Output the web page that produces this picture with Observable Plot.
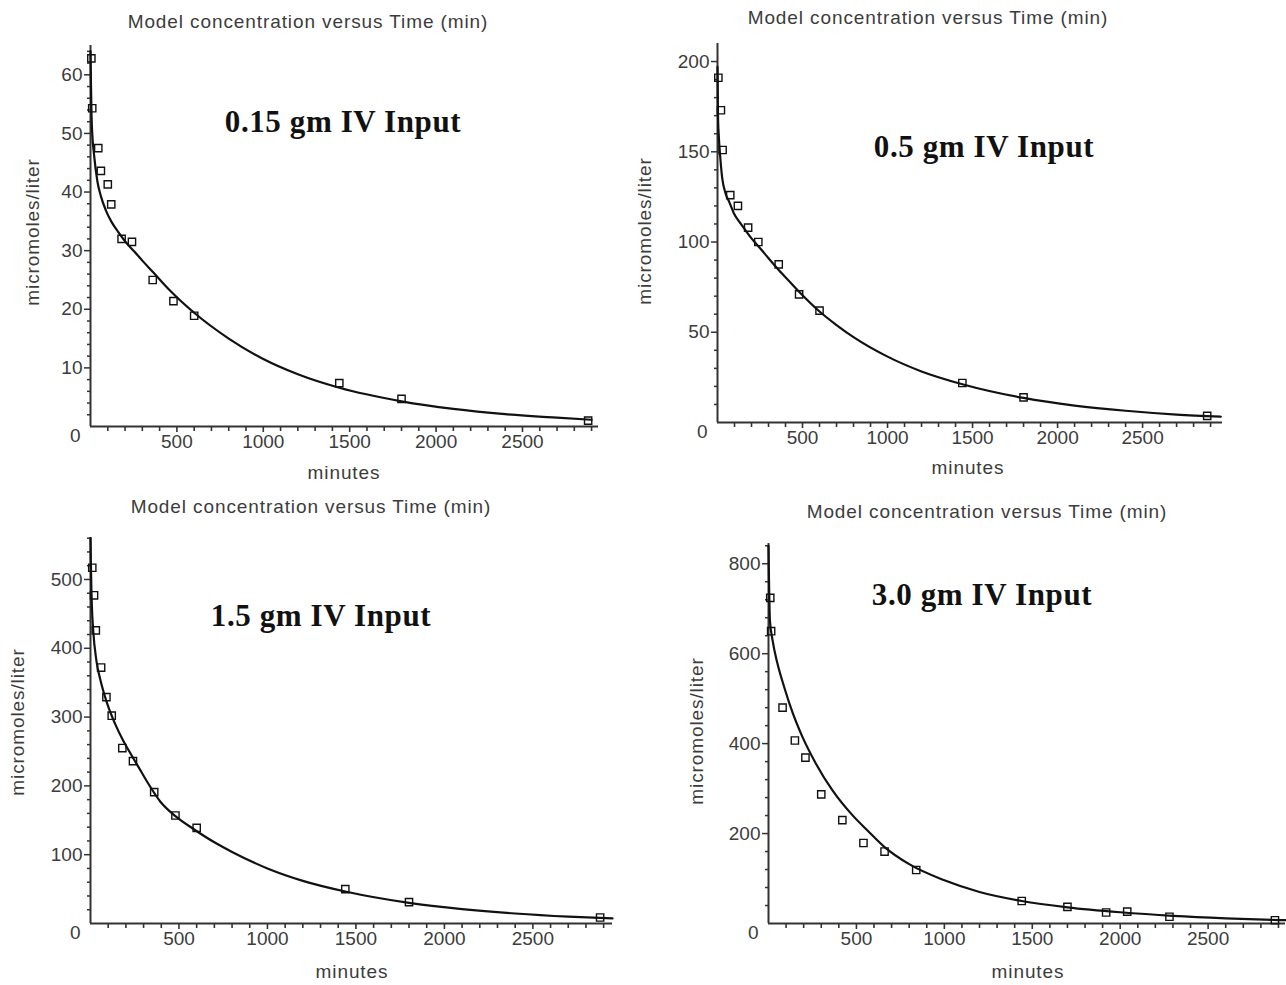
<!DOCTYPE html>
<html>
<head>
<meta charset="utf-8">
<script src="https://cdn.jsdelivr.net/npm/d3@7"></script>
<script src="https://cdn.jsdelivr.net/npm/@observablehq/plot@0.6"></script>
<style>
  body { margin: 0; background: #fff; }
  #root { position: relative; width: 1286px; height: 985px; overflow: hidden; background: #fff;
          font-family: "Liberation Sans", Arial, sans-serif; }
  .panel { position: absolute; }
  .lbl { position: absolute; white-space: nowrap; font-size: 19px; color: #3c3c3c;
         font-family: "Liberation Sans", Arial, sans-serif; }
  .title { transform: translate(-50%, -50%); letter-spacing: 0.9px; }
  .xlab { transform: translate(-50%, -50%); letter-spacing: 0.9px; }
  .ylab { transform: translate(-50%, -50%) rotate(-90deg); letter-spacing: 0.9px; }
  .note { position: absolute; white-space: nowrap; transform: translate(-50%, -50%);
          font-family: "Liberation Serif", "Times New Roman", serif; font-weight: bold;
          font-size: 31px; letter-spacing: 0.6px; color: #111; }
</style>
</head>
<body>
<div id="root"></div>
<script>
// ---------- shared texts / ticks ----------
const panelTitle = "Model concentration versus Time (min)";
const yLabel = "micromoles/liter";
const xLabel = "minutes";
const xMajorTicks = [500, 1000, 1500, 2000, 2500];

// ---------- Panel A : 0.15 gm ----------
const doseA = "0.15 gm IV Input";
const obsTimeA = [5, 10, 45, 60, 100, 120, 180, 240, 360, 480, 600, 1440, 1800, 2880];
const obsConcA = [62.8, 54.3, 47.5, 43.6, 41.3, 37.9, 32.0, 31.5, 25.0, 21.4, 18.9, 7.4, 4.7, 1.0];
const fitTimeA = [0, 3, 6, 10, 20, 40, 60, 90, 120, 160, 200, 255, 300, 360, 460, 600, 800, 1000, 1200, 1440, 1800, 2100, 2400, 2700, 2900];
const fitConcA = [64, 58, 53, 50, 46.5, 41.8, 39.3, 36.8, 35, 33.2, 31.6, 29.8, 28.3, 26.4, 23.2, 19.4, 15, 11.5, 8.9, 6.6, 4.3, 3.0, 2.1, 1.5, 1.15];
const yTicksA = [10, 20, 30, 40, 50, 60];

// ---------- Panel B : 0.5 gm ----------
const doseB = "0.5 gm IV Input";
const obsTimeB = [5, 20, 30, 75, 120, 180, 240, 360, 480, 600, 1440, 1800, 2880];
const obsConcB = [191, 173, 151, 126, 120, 108, 100, 87.6, 71, 62, 21.9, 13.9, 3.7];
const fitTimeB = [0, 3, 8, 13, 27, 47, 70, 96, 130, 165, 200, 253, 300, 360, 430, 500, 600, 700, 800, 1000, 1200, 1440, 1800, 2100, 2400, 2700, 2960];
const fitConcB = [197, 170, 158, 151, 136, 127, 122, 116, 111, 106.5, 102, 96.3, 91, 84.5, 77.5, 70.5, 61.5, 54, 47.3, 36.5, 28.3, 21.2, 13.6, 9.4, 6.5, 4.4, 3.2];
const yTicksB = [50, 100, 150, 200];

// ---------- Panel C : 1.5 gm ----------
const doseC = "1.5 gm IV Input";
const obsTimeC = [10, 20, 30, 60, 90, 120, 180, 240, 360, 480, 600, 1440, 1800, 2880];
const obsConcC = [517, 477, 426, 372, 329, 302, 255, 236, 191, 157, 139, 50, 31, 8.7];
const fitTimeC = [0, 3, 8, 15, 34, 56, 94, 141, 180, 226, 270, 320, 395, 480, 584, 700, 800, 1000, 1200, 1440, 1800, 2100, 2400, 2700, 2950];
const fitConcC = [560, 510, 460, 427, 381, 354, 320, 289, 268, 247, 228, 206, 177, 156, 137, 118, 104, 80, 62, 46.5, 30, 21, 14.5, 10, 7.5];
const yTicksC = [100, 200, 300, 400, 500];

// ---------- Panel D : 3.0 gm ----------
const doseD = "3.0 gm IV Input";
const obsTimeD = [10, 15, 80, 150, 210, 300, 420, 540, 660, 840, 1440, 1700, 1920, 2040, 2280, 2880];
const obsConcD = [724, 650, 480, 407, 369, 287, 230, 179, 160, 119, 50, 37, 24.5, 26.5, 15, 7.2];
const fitTimeD = [0, 3, 8, 23, 51, 89, 136, 193, 269, 364, 477, 560, 660, 800, 1000, 1200, 1440, 1700, 2000, 2300, 2600, 2940];
const fitConcD = [840, 760, 674, 630, 578, 526, 470, 415, 356, 296, 241, 208, 170, 132, 96, 70, 50, 36, 25, 17, 11.5, 7.3];
const yTicksD = [200, 400, 600, 800];

// ---------- builder ----------
const root = document.getElementById("root");
const axisColor = "#333";
const plainNumber = d => String(d);

function addLabel(cls, text, x, y) {
  const d = document.createElement("div");
  d.className = cls;
  d.textContent = text;
  d.style.left = x + "px";
  d.style.top = y + "px";
  root.appendChild(d);
}

function makePanel(cfg) {
  const obs = cfg.obsT.map((t, i) => ({t, c: cfg.obsC[i]}));
  const fit = cfg.fitT.map((t, i) => ({t, c: cfg.fitC[i]}));
  const xMinor = d3.range(100, cfg.xMax, 100).filter(v => !xMajorTicks.includes(v));
  const yMinor = d3.range(cfg.yStep, cfg.yMax, cfg.yStep).filter(v => !cfg.yTicks.includes(v));

  const chart = Plot.plot({
    width: cfg.w, height: cfg.h,
    marginLeft: cfg.ml, marginRight: cfg.mr, marginTop: cfg.mt, marginBottom: cfg.mb,
    x: {domain: [0, cfg.xMax]},
    y: {domain: [0, cfg.yMax]},
    style: {fontFamily: "'Liberation Sans', Arial, sans-serif", fontSize: "19px",
            color: "#3c3c3c", background: "transparent", overflow: "visible"},
    marks: [
      Plot.axisX(xMinor, {anchor: "bottom", tickSize: 5, fill: "none", stroke: axisColor, strokeWidth: 1.6, label: null}),
      Plot.axisX(xMajorTicks, {anchor: "bottom", tickSize: 6, tickPadding: 2, tickFormat: plainNumber, stroke: axisColor, strokeWidth: 1.6, label: null}),
      Plot.axisY(yMinor, {anchor: "left", tickSize: 3, fill: "none", stroke: axisColor, strokeWidth: 1.5, label: null}),
      Plot.axisY(cfg.yTicks, {anchor: "left", tickSize: 6, tickPadding: 2, tickFormat: plainNumber, stroke: axisColor, strokeWidth: 1.5, label: null}),
      Plot.axisY([0], {anchor: "left", tickSize: 0, tickPadding: 10, dy: 9, tickFormat: plainNumber, label: null}),
      Plot.ruleY([0], {stroke: axisColor, strokeWidth: 2}),
      Plot.ruleX([0], {stroke: axisColor, strokeWidth: 2}),
      Plot.line(fit, {x: "t", y: "c", curve: "monotone-x", stroke: "#111", strokeWidth: 2.2}),
      Plot.dot(obs, {x: "t", y: "c", symbol: "square", r: 4.1, stroke: "#111", fill: "none", strokeWidth: 1.4})
    ]
  });
  const holder = document.createElement("div");
  holder.className = "panel";
  holder.style.left = cfg.left + "px";
  holder.style.top = cfg.top + "px";
  holder.appendChild(chart);
  root.appendChild(holder);

  addLabel("lbl title", panelTitle, cfg.titleX, cfg.titleY);
  addLabel("lbl ylab", yLabel, cfg.ylabX, cfg.ylabY);
  addLabel("lbl xlab", xLabel, cfg.xlabX, cfg.xlabY);
  addLabel("note", cfg.dose, cfg.noteX, cfg.noteY);
}

makePanel({left: 0, top: 0, w: 643, h: 490, ml: 90, mr: 45, mt: 45, mb: 64,
  xMax: 2940, yMax: 65, yTicks: yTicksA, yStep: 2,
  obsT: obsTimeA, obsC: obsConcA, fitT: fitTimeA, fitC: fitConcA, dose: doseA,
  titleX: 308, titleY: 22, ylabX: 33, ylabY: 232, xlabX: 344, xlabY: 473, noteX: 343, noteY: 122});

makePanel({left: 643, top: 0, w: 643, h: 490, ml: 74, mr: 64, mt: 43, mb: 68,
  xMax: 2970, yMax: 210, yTicks: yTicksB, yStep: 10,
  obsT: obsTimeB, obsC: obsConcB, fitT: fitTimeB, fitC: fitConcB, dose: doseB,
  titleX: 928, titleY: 18, ylabX: 645, ylabY: 231, xlabX: 968, xlabY: 468, noteX: 984, noteY: 147});

makePanel({left: 0, top: 490, w: 643, h: 495, ml: 90, mr: 31, mt: 47, mb: 62,
  xMax: 2950, yMax: 561, yTicks: yTicksC, yStep: 20,
  obsT: obsTimeC, obsC: obsConcC, fitT: fitTimeC, fitC: fitConcC, dose: doseC,
  titleX: 311, titleY: 507, ylabX: 18, ylabY: 722, xlabX: 352, xlabY: 972, noteX: 321, noteY: 616});

makePanel({left: 643, top: 490, w: 643, h: 495, ml: 125, mr: 1, mt: 53, mb: 62,
  xMax: 2940, yMax: 845, yTicks: yTicksD, yStep: 40,
  obsT: obsTimeD, obsC: obsConcD, fitT: fitTimeD, fitC: fitConcD, dose: doseD,
  titleX: 987, titleY: 512, ylabX: 697, ylabY: 731, xlabX: 1028, xlabY: 972, noteX: 982, noteY: 595});
</script>
</body>
</html>
